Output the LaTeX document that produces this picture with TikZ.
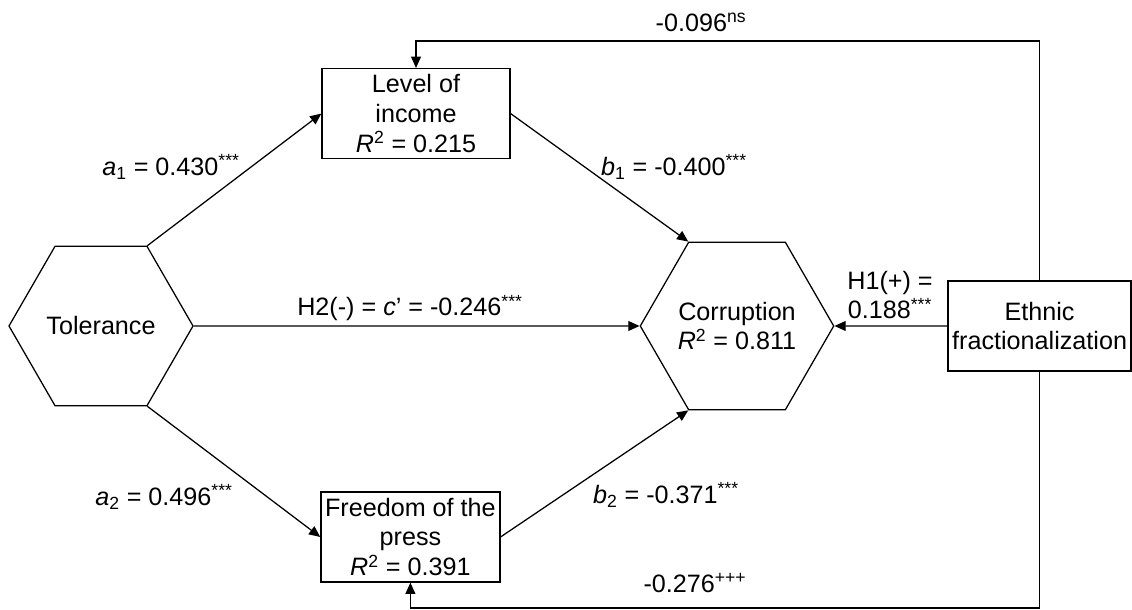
\documentclass[tikz,border=0pt]{standalone}
\usepackage{fontspec}
\setmainfont{Liberation Sans}
\usetikzlibrary{shapes.geometric,arrows.meta,positioning}

\begin{document}
\begin{tikzpicture}[
    every node/.style={font=\fontsize{17.9}{21.3}\selectfont},
    hex/.style={draw, regular polygon, regular polygon sides=6, minimum size=4.6cm, inner sep=0pt, align=center},
    var/.style={draw, align=center, minimum width=4.7cm, minimum height=2.25cm, inner sep=0pt},
    lbl/.style={align=center, inner sep=0pt},
    link/.style={-{Triangle[length=8pt,width=7pt]}},
    line width=0.9pt
]
\useasboundingbox (0,0) rectangle (28.3,15.25);

\node[hex] (tol) at (2.525,7.1) {Tolerance};
\node[hex] (cor) at (18.425,7.1) {Corruption\\ \textit{R}\textsuperscript{2} = 0.811};

\node[var] (inc) at (10.4,12.41) {Level of\\ income\\ \textit{R}\textsuperscript{2} = 0.215};
\node[var, minimum width=4.475cm] (pre) at (10.26,1.825) {Freedom of the\\ press\\ \textit{R}\textsuperscript{2} = 0.391};
\node[var, minimum width=4.575cm] (eth) at (25.99,7.1) {Ethnic\\ fractionalization};

\coordinate (topturn) at (10.4,14.225);
\coordinate (botturn) at (10.26,0.05);

\draw[link] (tol.60) -- (inc.west);
\draw[link] (inc.east) -- (cor.120);
\draw[link] (tol.0) -- (cor.180);
\draw[link] (tol.-60) -- (pre.west);
\draw[link] (pre.east) -- (cor.-120);
\draw[link] (eth.west) -- (cor.0);
\draw[link] (eth.north) |- (topturn) -- (inc.north);
\draw[link] (eth.south) |- (botturn) -- (pre.south);

% path coefficients
\node[lbl] (la1) at (4.275,11.075) {\textit{a}\textsubscript{1} = 0.430\textsuperscript{***}};
\node[lbl] (la2) at (4.1,2.825) {\textit{a}\textsubscript{2} = 0.496\textsuperscript{***}};
\node[lbl] (lb1) at (16.85,11.075) {\textit{b}\textsubscript{1} = -0.400\textsuperscript{***}};
\node[lbl] (lb2) at (16.65,2.875) {\textit{b}\textsubscript{2} = -0.371\textsuperscript{***}};
\node[lbl] (lc) at (10.25,7.55) {H2(-) = \textit{c}' = -0.246\textsuperscript{***}};
\node[lbl] (lh1) at (22.25,7.875) {H1(+) =\\ 0.188\textsuperscript{***}};
\node[lbl] (ltop) at (17.525,14.7) {-0.096\textsuperscript{ns}};
\node[lbl] (lbot) at (17.375,0.675) {-0.276\textsuperscript{+++}};
\end{tikzpicture}
\end{document}
